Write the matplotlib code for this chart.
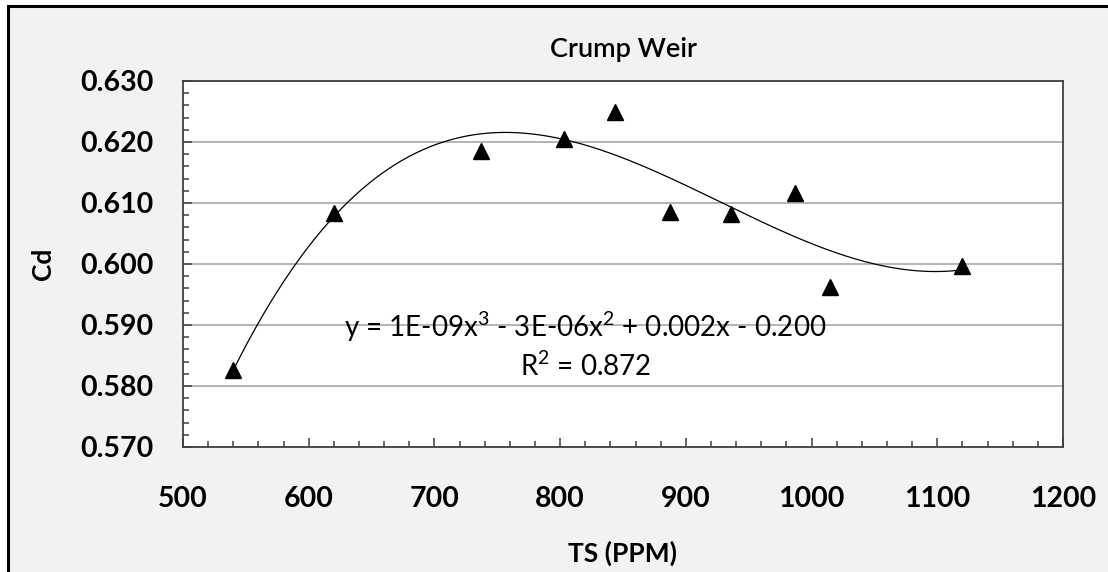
import matplotlib
matplotlib.use('Agg')
import matplotlib.pyplot as plt
import numpy as np
from matplotlib.patches import Rectangle
from matplotlib.ticker import MultipleLocator, FormatStrFormatter

# values
ts = [540, 620, 737, 803, 844, 887, 936, 987, 1015, 1120]
cd = [0.5826, 0.6084, 0.6185, 0.6205, 0.6249, 0.6085, 0.6082, 0.6116, 0.5962, 0.5997]
eq_text = 'y = 1E-09x$^3$ - 3E-06x$^2$ + 0.002x - 0.200'
r2_text = 'R$^2$ = 0.872'

plt.rcParams['font.family'] = ['Lato', 'DejaVu Sans']
plt.rcParams['mathtext.fontset'] = 'custom'
plt.rcParams['mathtext.rm'] = 'Lato'

fig = plt.figure(figsize=(11.08, 5.72), dpi=100, facecolor='white')
# grey chart area with the black frame (only top and left visible)
fig.patches.append(Rectangle((8/1108, -0.1), 1.2, 1.1 - 6/572, transform=fig.transFigure,
                             facecolor='#F2F2F2', edgecolor='black', linewidth=2.2, zorder=-1))

ax = fig.add_axes([183/1108, 1 - 447/572, 880/1108, 366/572])
ax.set_facecolor('white')

x = np.array(ts)
y = np.array(cd)
coef = np.polyfit(x, y, 3)
xx = np.linspace(x.min(), x.max(), 300)
ax.plot(xx, np.polyval(coef, xx), color='black', lw=0.9, zorder=3)
ax.plot(x, y, linestyle='none', marker='^', ms=11.5, color='black', zorder=4)

ax.set_xlim(500, 1200)
ax.set_ylim(0.570, 0.630)
ax.xaxis.set_major_locator(MultipleLocator(100))
ax.xaxis.set_minor_locator(MultipleLocator(20))
ax.yaxis.set_major_locator(MultipleLocator(0.01))
ax.yaxis.set_minor_locator(MultipleLocator(0.002))
ax.yaxis.set_major_formatter(FormatStrFormatter('%.3f'))
ax.grid(axis='y', which='major', color='#A0A0A0', lw=1.1)
ax.set_axisbelow(True)

for s in ax.spines.values():
    s.set_color('#404040')
    s.set_linewidth(1.3)

ax.tick_params(axis='both', which='major', direction='in', length=6.5, width=1.1, color='#404040',
               labelsize=20.5)
ax.tick_params(axis='both', which='minor', direction='in', length=4.5, width=1.1, color='#404040')
ax.tick_params(axis='x', which='major', pad=28)
ax.tick_params(axis='y', which='major', pad=21)
for lbl in ax.get_xticklabels() + ax.get_yticklabels():
    lbl.set_fontweight('bold')

ax.set_xlabel('TS (PPM)', fontsize=19, fontweight='bold')
ax.set_ylabel('Cd', fontsize=19, fontweight='bold')
ax.xaxis.set_label_coords(0.5, -0.255)
ax.yaxis.set_label_coords(-0.145, 0.5)

ax.text(0.5, 1.087, 'Crump Weir', transform=ax.transAxes, ha='center', va='center',
        fontsize=19.5, fontweight='semibold')
ax.text(820, 0.5897, eq_text, ha='center', va='center', fontsize=20)
ax.text(820, 0.5833, r2_text, ha='center', va='center', fontsize=20)

plt.savefig('out.png', dpi=100, facecolor=fig.get_facecolor())
